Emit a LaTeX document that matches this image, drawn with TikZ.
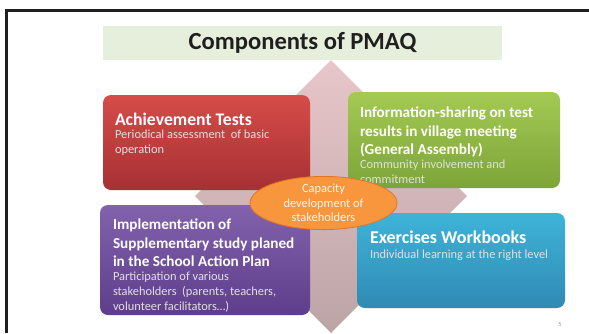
\documentclass[tikz,border=0pt]{standalone}
\usepackage{fontspec}
\setmainfont{Carlito}
\usetikzlibrary{positioning,shapes.geometric}

\definecolor{redtop}{RGB}{214,76,72}
\definecolor{redbot}{RGB}{166,48,52}
\definecolor{greentop}{RGB}{164,202,84}
\definecolor{greenbot}{RGB}{124,164,56}
\definecolor{purpletop}{RGB}{130,98,172}
\definecolor{purplebot}{RGB}{94,62,140}
\definecolor{bluetop}{RGB}{62,180,216}
\definecolor{bluebot}{RGB}{48,138,180}
\definecolor{orangefill}{RGB}{247,150,60}
\definecolor{orangeline}{RGB}{222,118,38}
\definecolor{diamtop}{RGB}{232,198,202}
\definecolor{diambot}{RGB}{188,164,166}
\definecolor{titleband}{RGB}{230,238,220}

\begin{document}
\begin{tikzpicture}[
  x=1pt, y=-1pt,
  card/.style={rounded corners=8pt,draw=none,inner sep=0pt},
  cardhead/.style={font=\bfseries\fontsize{15.2}{18.5}\selectfont,text=white,align=left,inner sep=0pt},
  cardnote/.style={font=\fontsize{12.4}{15}\selectfont,text=white!88!black,align=left,inner sep=0pt}
]
  \useasboundingbox (0,0) rectangle (589,333);
  % slide frame
  \draw[line width=3pt,black!88] (6,333)--(6,10.5)--(589,10.5);

  % background diamond
  \shade[top color=diamtop,bottom color=diambot]
    (331,60)--(467,196)--(331,333)--(195,196)--cycle;

  % title band
  \node[fill=titleband,minimum width=399pt,minimum height=34pt,inner sep=0pt]
    (title) at (302.5,43) {};
  \node[font=\bfseries\fontsize{24.6}{28}\selectfont,text=black!88] (titletxt)
    at (title.center) {Components of PMAQ};

  % four cards
  \node[card,top color=redtop,bottom color=redbot,
        minimum width=207pt,minimum height=95pt] (achv) at (206.5,142.5) {};
  \node[card,top color=greentop,bottom color=greenbot,
        minimum width=212pt,minimum height=96pt] (info) at (454,140) {};
  \node[card,top color=purpletop,bottom color=purplebot,
        minimum width=210pt,minimum height=110pt] (impl) at (205,260) {};
  \node[card,top color=bluetop,bottom color=bluebot,
        minimum width=208pt,minimum height=95pt] (exer) at (461,260.5) {};

  % card texts
  \node[cardhead,font=\bfseries\fontsize{17.7}{20}\selectfont,anchor=north west]
    (achvhead) at ([shift={(12,18)}]achv.north west) {Achievement Tests};
  \node[cardnote,anchor=north west] (achvnote) at ([yshift=-4pt]achvhead.south west)
    {Periodical assessment\ \ of basic\\operation};

  \node[cardhead,anchor=north west] (infohead) at ([shift={(12,15)}]info.north west)
    {Information-sharing on test\\results in village meeting\\(General Assembly)};
  \node[cardnote,anchor=north west] (infonote) at ([yshift=-2pt]infohead.south west)
    {Community involvement and\\commitment};

  \node[cardhead,anchor=north west] (implhead) at ([shift={(13,14)}]impl.north west)
    {Implementation of\\Supplementary study planed\\in the School Action Plan};
  \node[cardnote,anchor=north west] (implnote) at ([yshift=-5pt]implhead.south west)
    {Participation of various\\stakeholders\ \ (parents, teachers,\\volunteer facilitators\dots)};

  \node[cardhead,font=\bfseries\fontsize{18}{21}\selectfont,anchor=north west]
    (exerhead) at ([shift={(13,18)}]exer.north west) {Exercises Workbooks};
  \node[cardnote,anchor=north west] (exernote) at ([yshift=-6pt]exerhead.south west)
    {Individual learning at the right level};

  % centre ellipse
  \node[ellipse,fill=orangefill,draw=orangeline,line width=0.8pt,
        minimum width=147pt,minimum height=50pt,inner sep=0pt,
        font=\fontsize{12.4}{14.5}\selectfont,text=white!92!orange,align=center]
    (capa) at (323.5,203) {Capacity\\development of\\stakeholders};

  % page number
  \node[font=\fontsize{6}{7}\selectfont,text=black!45] (pageno) at (560,325) {5};
\end{tikzpicture}
\end{document}
